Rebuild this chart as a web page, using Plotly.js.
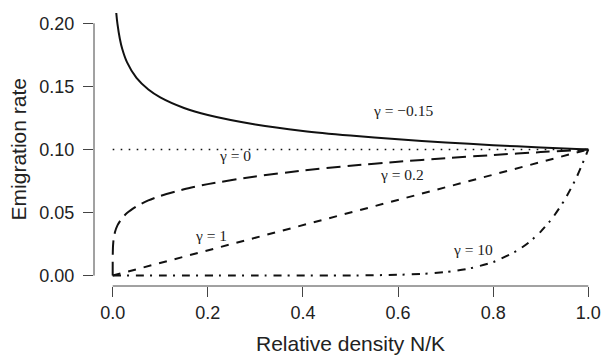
<!DOCTYPE html>
<html>
<head>
<meta charset="utf-8">
<script src="https://cdn.plot.ly/plotly-3.0.1.min.js"></script>
<style>html,body{margin:0;padding:0;background:#fff;}#chart{width:603px;height:356px;}</style>
</head>
<body>
<div id="chart"></div>
<script>
// Values
const xNeg = [0.005, 0.0075, 0.01, 0.015, 0.02, 0.03, 0.05, 0.075, 0.1, 0.15, 0.2, 0.3, 0.4, 0.5, 0.6, 0.7, 0.8, 0.9, 1.0];
const yNeg = [0.2214, 0.2083, 0.1995, 0.1878, 0.1798, 0.1692, 0.1567, 0.1475, 0.1413, 0.1329, 0.1273, 0.1198, 0.1147, 0.1110, 0.1080, 0.1055, 0.1034, 0.1016, 0.1000];

const xZero = [0, 1];
const yZero = [0.1, 0.1];

const xFifth = [0, 0.00001, 0.0001, 0.0005, 0.001, 0.002, 0.005, 0.01, 0.02, 0.03, 0.05, 0.075, 0.1, 0.15, 0.2, 0.3, 0.4, 0.5, 0.6, 0.7, 0.8, 0.9, 1.0];
const yFifth = [0, 0.0100, 0.0158, 0.0219, 0.0251, 0.0289, 0.0347, 0.0398, 0.0457, 0.0496, 0.0549, 0.0596, 0.0631, 0.0684, 0.0725, 0.0786, 0.0833, 0.0871, 0.0903, 0.0931, 0.0956, 0.0979, 0.1000];

const xOne = [0, 0.25, 0.5, 0.75, 1];
const yOne = [0, 0.025, 0.05, 0.075, 0.1];

const xTen = [0, 0.3, 0.5, 0.6, 0.65, 0.7, 0.75, 0.8, 0.85, 0.875, 0.9, 0.925, 0.95, 0.975, 1.0];
const yTen = [0, 0.00001, 0.0001, 0.000605, 0.00135, 0.002825, 0.00563, 0.01074, 0.01969, 0.0263, 0.03487, 0.04586, 0.05987, 0.07763, 0.1000];

const curveLabels = ["γ = −0.15", "γ = 0", "γ = 0.2", "γ = 1", "γ = 10"];
const labelX = [0.610, 0.258, 0.609, 0.207, 0.757];
const labelY = [0.1310, 0.0950, 0.0805, 0.0315, 0.0205];

const xTicks = [0, 0.2, 0.4, 0.6, 0.8, 1.0];
const yTicks = [0, 0.05, 0.10, 0.15, 0.20];
const xTitle = "Relative density N/K";
const yTitle = "Emigration rate";

const ink = "#111";
const axisCol = "#444";

const traces = [
  {x: xNeg, y: yNeg, mode: "lines", line: {color: ink, width: 2, shape: "spline", smoothing: 0.6}},
  {x: xZero, y: yZero, mode: "lines", line: {color: ink, width: 1.6, dash: "1.6px,6.4px"}},
  {x: xFifth, y: yFifth, mode: "lines", line: {color: ink, width: 2, dash: "14px,7px", shape: "spline", smoothing: 0.6}},
  {x: xOne, y: yOne, mode: "lines", line: {color: ink, width: 2, dash: "8px,8px"}},
  {x: xTen, y: yTen, mode: "lines", line: {color: ink, width: 2, dash: "8px,6px,2px,7px", shape: "spline", smoothing: 0.6}}
];

const annotations = curveLabels.map((t, i) => ({
  x: labelX[i], y: labelY[i], xref: "x", yref: "y", text: t, showarrow: false,
  font: {family: "Liberation Serif, Times New Roman, serif", size: 15.5, color: "#222"},
  xanchor: "center", yanchor: "middle", bgcolor: "rgba(0,0,0,0)"
}));
annotations.push({
  x: 0.5, xref: "x", y: 0, yref: "paper", yanchor: "top", yshift: -44,
  text: xTitle, showarrow: false,
  font: {family: "Liberation Sans, Arial, sans-serif", size: 21, color: "#222"}
});
annotations.push({
  x: 0, xref: "paper", xshift: -76, xanchor: "center", y: 0.1, yref: "y", yanchor: "middle",
  text: yTitle, textangle: -90, showarrow: false,
  font: {family: "Liberation Sans, Arial, sans-serif", size: 21, color: "#222"}
});

const layout = {
  width: 603, height: 356,
  margin: {l: 94, r: 0, t: 13, b: 70, pad: 0},
  paper_bgcolor: "#fff", plot_bgcolor: "#fff",
  showlegend: false,
  font: {family: "Liberation Sans, Arial, sans-serif", size: 18, color: "#222"},
  xaxis: {
    range: [-0.0393, 1.0309], showgrid: false, zeroline: false, showline: false,
    tickmode: "array", tickvals: xTicks, ticktext: xTicks.map(v => v.toFixed(1)),
    ticks: "outside", ticklen: 10, tickwidth: 1, tickcolor: axisCol,
    tickfont: {size: 18, color: "#222"}
  },
  yaxis: {
    range: [-0.00825, 0.20817], showgrid: false, zeroline: false, showline: false,
    tickmode: "array", tickvals: yTicks, ticktext: yTicks.map(v => v.toFixed(2)),
    ticks: "outside", ticklen: 10, tickwidth: 1, tickcolor: axisCol,
    ticklabelstandoff: 5,
    tickfont: {size: 18, color: "#222"}
  },
  shapes: [
    {type: "line", xref: "x", yref: "paper", x0: xTicks[0], x1: xTicks[xTicks.length - 1], y0: 0, y1: 0, line: {color: axisCol, width: 1}},
    {type: "line", xref: "paper", yref: "y", x0: 0, x1: 0, y0: yTicks[0], y1: yTicks[yTicks.length - 1], line: {color: axisCol, width: 1}}
  ],
  annotations: annotations
};

Plotly.newPlot("chart", traces, layout, {staticPlot: true, displayModeBar: false});
</script>
</body>
</html>
